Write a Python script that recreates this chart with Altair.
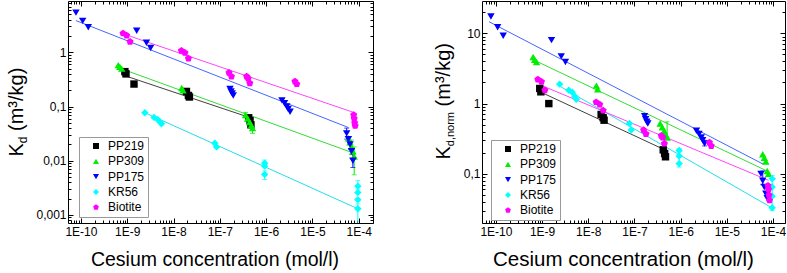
import altair as alt
import pandas as pd

FONT = "Liberation Sans"
SERIES = ["PP219", "PP309", "PP175", "KR56", "Biotite"]
MARK_COLORS = ["#000000", "#00ee00", "#0000ff", "#00ffff", "#ff00ff"]
LINE_COLORS = ["#404040", "#33dd33", "#4466ff", "#22ddee", "#ff44ff"]
PENTAGON = "M0,-1L0.951,-0.309L0.588,0.809L-0.588,0.809L-0.951,-0.309Z"
SHAPES = ["square", "triangle-up", "triangle-down", "diamond", PENTAGON]

# ---- measured points: concentration (mol/l), Kd (m3/kg), Kd,norm (m3/kg)
pp219_conc = [8.9e-10, 9.4e-10, 1.4e-9, 1.9e-8, 2.1e-8, 2.2e-8, 4.2e-7, 4.5e-7, 4.7e-7]
pp219_kd = [0.44, 0.40, 0.26, 0.19, 0.16, 0.15, 0.062, 0.055, 0.046]
pp219_norm = [1.64, 1.47, 1.0, 0.70, 0.63, 0.58, 0.22, 0.195, 0.175]

pp309_conc = [6.4e-10, 6.9e-10, 7.6e-10, 1.5e-8, 1.6e-8, 3.6e-7, 4.0e-7, 4.4e-7,
              4.8e-7, 5.1e-7, 6.0e-5, 6.5e-5, 7.0e-5, 7.5e-5, 8.0e-5]
pp309_kd = [0.58, 0.54, 0.50, 0.22, 0.20, 0.07, 0.06, 0.052, 0.045, 0.04,
            0.026, 0.022, 0.018, 0.015, 0.012]
pp309_norm = [4.6, 4.2, 3.9, 1.8, 1.6, 0.52, 0.46, 0.41, 0.36, 0.33,
              0.19, 0.17, 0.15, 0.11, 0.10]

pp175_conc = [7.8e-11, 1.09e-10, 1.44e-10, 1.6e-9, 2.6e-9, 3.2e-9, 1.66e-7, 1.75e-7,
              1.85e-7, 1.95e-7, 2.2e-6, 2.5e-6, 2.8e-6, 3.0e-6, 3.3e-6, 5.5e-5,
              6.0e-5, 6.5e-5, 7.0e-5, 7.5e-5]
pp175_kd = [5.4, 3.8, 2.9, 2.5, 1.5, 1.2, 0.21, 0.19, 0.175, 0.16, 0.13, 0.115,
            0.10, 0.09, 0.08, 0.032, 0.025, 0.02, 0.015, 0.01]
pp175_norm = [17.3, 12.2, 9.2, 8.0, 4.7, 3.9, 0.66, 0.60, 0.55, 0.52, 0.41, 0.37,
              0.33, 0.30, 0.27, 0.10, 0.08, 0.065, 0.052, 0.045]

kr56_conc = [2.4e-9, 3.8e-9, 4.5e-9, 5.1e-9, 5.5e-9, 7.8e-8, 8.5e-8, 9.3e-7, 9.3e-7,
             9.3e-7, 9.6e-5, 9.6e-5, 9.6e-5, 9.6e-5]
kr56_kd = [0.077, 0.063, 0.058, 0.052, 0.048, 0.021, 0.018, 0.009, 0.008, 0.0056,
           0.0034, 0.0026, 0.0019, 0.0013]
kr56_norm = [1.89, 1.55, 1.45, 1.27, 1.15, 0.52, 0.42, 0.215, 0.18, 0.14,
             0.085, 0.065, 0.048, 0.033]

bio_conc = [8.1e-10, 9.7e-10, 1.15e-9, 1.48e-8, 1.77e-8, 2.1e-8, 1.58e-7, 1.78e-7,
            3.8e-7, 4.1e-7, 4.45e-7, 4.2e-6, 4.6e-6, 7.8e-5, 8.0e-5, 8.2e-5, 8.4e-5]
bio_kd = [2.24, 2.05, 1.57, 1.07, 0.98, 0.77, 0.42, 0.36, 0.36, 0.33, 0.27, 0.29,
          0.26, 0.07, 0.06, 0.05, 0.044]
bio_norm = [2.2, 2.05, 1.55, 1.05, 0.97, 0.8, 0.42, 0.37, 0.35, 0.33, 0.27, 0.28,
            0.25, 0.068, 0.06, 0.05, 0.042]

# ---- fitted power-law lines (end points)
kd_fit_conc = {"PP219": [8.9e-10, 3.9e-7], "PP309": [6.9e-10, 8.0e-5],
               "PP175": [7.8e-11, 6.0e-5], "KR56": [2.4e-9, 9.6e-5],
               "Biotite": [8.1e-10, 8.1e-5]}
kd_fit_val = {"PP219": [0.37, 0.065], "PP309": [0.51, 0.0137],
              "PP175": [3.85, 0.041], "KR56": [0.077, 0.0013],
              "Biotite": [2.2, 0.077]}
norm_fit_conc = {"PP219": [9.5e-10, 4.2e-7], "PP309": [7.0e-10, 7.4e-5],
                 "PP175": [7.1e-11, 6.2e-5], "KR56": [2.3e-9, 9.4e-5],
                 "Biotite": [9.0e-10, 8.0e-5]}
norm_fit_val = {"PP219": [1.45, 0.225], "PP309": [4.1, 0.11],
                "PP175": [14.6, 0.137], "KR56": [1.8, 0.033],
                "Biotite": [1.85, 0.081]}

# ---- error bars (series, conc, low, high)
kd_err_series = ["PP309", "PP309", "PP219", "PP309", "PP309", "PP175", "PP175",
                 "KR56", "KR56", "KR56", "KR56"]
kd_err_conc = [5.1e-7, 3.6e-7, 4.7e-7, 8.0e-5, 7.0e-5, 5.5e-5, 7.5e-5,
               9.3e-7, 9.3e-7, 9.6e-5, 9.6e-5]
kd_err_lo = [0.032, 0.063, 0.041, 0.0055, 0.013, 0.025, 0.0075, 0.0079, 0.0045,
             0.0030, 0.0005]
kd_err_hi = [0.047, 0.078, 0.050, 0.018, 0.024, 0.040, 0.013, 0.0103, 0.0065,
             0.0043, 0.0016]
norm_err_series = ["KR56", "PP175", "KR56", "PP309", "PP175"]
norm_err_conc = [9.3e-7, 3.3e-6, 9.6e-5, 5.1e-7, 6.0e-5]
norm_err_lo = [0.125, 0.25, 0.030, 0.31, 0.07]
norm_err_hi = [0.23, 0.30, 0.095, 0.55, 0.11]

ALL = [("PP219", pp219_conc, pp219_kd, pp219_norm),
       ("PP309", pp309_conc, pp309_kd, pp309_norm),
       ("PP175", pp175_conc, pp175_kd, pp175_norm),
       ("KR56", kr56_conc, kr56_kd, kr56_norm),
       ("Biotite", bio_conc, bio_kd, bio_norm)]


def points_df(which):
    rows = []
    for s, c, kd, nm in ALL:
        vals = kd if which == "kd" else nm
        for ci, vi in zip(c, vals):
            rows.append({"series": s, "conc": ci, "val": vi})
    return pd.DataFrame(rows)


def fit_df(fc, fv):
    rows = []
    for s in SERIES:
        for ci, vi in zip(fc[s], fv[s]):
            rows.append({"series": s, "conc": ci, "val": vi})
    return pd.DataFrame(rows)


def err_df(ser, conc, lo, hi):
    return pd.DataFrame({"series": ser, "conc": conc, "lo": lo, "hi": hi})


MAJ = "abs(log(datum.value)/LN10 - round(log(datum.value)/LN10)) < 0.001"
TICKS = sorted(m * 10.0 ** k for k in range(-12, 3) for m in range(1, 10))


def make_panel(pts, fits, errs, xdom, ydom, w, h, title_parts, legend_xy,
               xtitle_size, xtitle_x):
    xt = [v for v in TICKS if xdom[0] <= v <= xdom[1]]
    yt = [v for v in TICKS if ydom[0] <= v <= ydom[1]]
    xs = alt.Scale(type="log", domain=xdom, nice=False, zero=False)
    ys = alt.Scale(type="log", domain=ydom, nice=False, zero=False)
    tsz = {"condition": {"test": MAJ, "value": -5}, "value": -3}
    common = dict(tickSize=tsz, tickColor="black", domainColor="black",
                  grid=False, labelOverlap=False, labelFlush=False,
                  labelFont=FONT, labelFontSize=12, labelColor="black",
                  tickWidth=1, domainWidth=1)
    xb = alt.Axis(values=xt, orient="bottom",
                  labelExpr=f"{MAJ} ? '1E-' + round(-log(datum.value)/LN10) : ''",
                  labelPadding=8, title="Cesium concentration (mol/l)",
                  titleFont=FONT, titleFontSize=xtitle_size, titleFontWeight="normal",
                  titleColor="black", titleX=xtitle_x, titleY=42,
                  titleAlign="center", titleBaseline="alphabetic", **common)
    yl = alt.Axis(values=yt, orient="left",
                  labelExpr=f"{MAJ} ? replace(format(datum.value, '~g'), '.', ',') : ''",
                  labelPadding=7, title=None, **common)
    xtop = alt.Axis(values=xt, orient="top", labels=False, title=None, **common)
    yr = alt.Axis(values=yt, orient="right", labels=False, title=None, **common)

    leg = alt.Legend(title=None, orient="none", legendX=legend_xy[0],
                     legendY=legend_xy[1], strokeColor="#999999", fillColor="white",
                     padding=3, symbolOffset=8, labelFont=FONT, labelFontSize=12,
                     labelColor="black", symbolSize=36, rowPadding=3.3,
                     labelOffset=6, labelExpr="datum.label + '   '")
    color = alt.Color("series:N", scale=alt.Scale(domain=SERIES, range=MARK_COLORS),
                      legend=leg)
    shape = alt.Shape("series:N", scale=alt.Scale(domain=SERIES, range=SHAPES),
                      legend=leg)
    X = lambda f: alt.X(f, scale=xs, axis=None)
    Y = lambda f: alt.Y(f, scale=ys, axis=None)

    layers = []
    for s, lc, mc in zip(SERIES, LINE_COLORS, MARK_COLORS):
        fd = fits[fits.series == s]
        layers.append(alt.Chart(fd).mark_line(strokeWidth=1, clip=True, color=lc)
                      .encode(x=X("conc:Q"), y=Y("val:Q")))
        ed = errs[errs.series == s]
        if len(ed):
            layers.append(alt.Chart(ed).mark_rule(strokeWidth=1, clip=True, color=mc)
                          .encode(x=X("conc:Q"), y=Y("lo:Q"), y2="hi:Q"))
            for f in ("lo:Q", "hi:Q"):
                layers.append(alt.Chart(ed).mark_tick(orient="horizontal", size=5,
                                                      thickness=1, clip=True, color=mc)
                              .encode(x=X("conc:Q"), y=Y(f)))
    layers.append(alt.Chart(pts).mark_point(filled=True, size=55, opacity=1,
                                            clip=True).encode(
        x=alt.X("conc:Q", scale=xs, axis=xb),
        y=alt.Y("val:Q", scale=ys, axis=yl),
        color=color, shape=shape))
    layers.append(alt.Chart(pts).mark_point(opacity=0, clip=True).encode(
        x=alt.X("conc:Q", scale=xs, axis=xtop),
        y=alt.Y("val:Q", scale=ys, axis=yr)))
    for txt, px, py, fs in title_parts:
        layers.append(alt.Chart(pd.DataFrame({"t": [txt]})).mark_text(
            angle=270, align="left", baseline="alphabetic", font=FONT,
            fontSize=fs, color="black").encode(
            x=alt.value(px), y=alt.value(py), text="t:N"))
    return alt.layer(*layers).resolve_axis(x="independent", y="independent") \
        .properties(width=w, height=h)


left_title = [("K", -45, 155.5, 20), ("d", -41, 142.2, 12), ("(m³/kg)", -45, 130, 20)]
right_title = [("K", -32, 158.5, 20), ("d,norm", -28, 145.2, 11),
               ("(m³/kg)", -32, 105.4, 20)]

left = make_panel(points_df("kd"), fit_df(kd_fit_conc, kd_fit_val),
                  err_df(kd_err_series, kd_err_conc, kd_err_lo, kd_err_hi),
                  [5.25e-11, 2.04e-4], [7.1e-4, 8.85], 305, 222, left_title,
                  (11, 136), 19.5, 146.5)
right = make_panel(points_df("norm"), fit_df(norm_fit_conc, norm_fit_val),
                   err_df(norm_err_series, norm_err_conc, norm_err_lo, norm_err_hi),
                   [5.0e-11, 1.82e-4], [0.02, 28.8], 303, 222, right_title,
                   (9, 139), 20.5, 141)

chart = alt.hconcat(left, right, spacing=109, bounds="flush").resolve_scale(
    color="independent", shape="independent").properties(
    padding={"left": 7, "top": -3, "right": 0, "bottom": 0}).configure_view(stroke=None)

chart.save("out.html", embed_options={"renderer": "svg", "actions": False})
